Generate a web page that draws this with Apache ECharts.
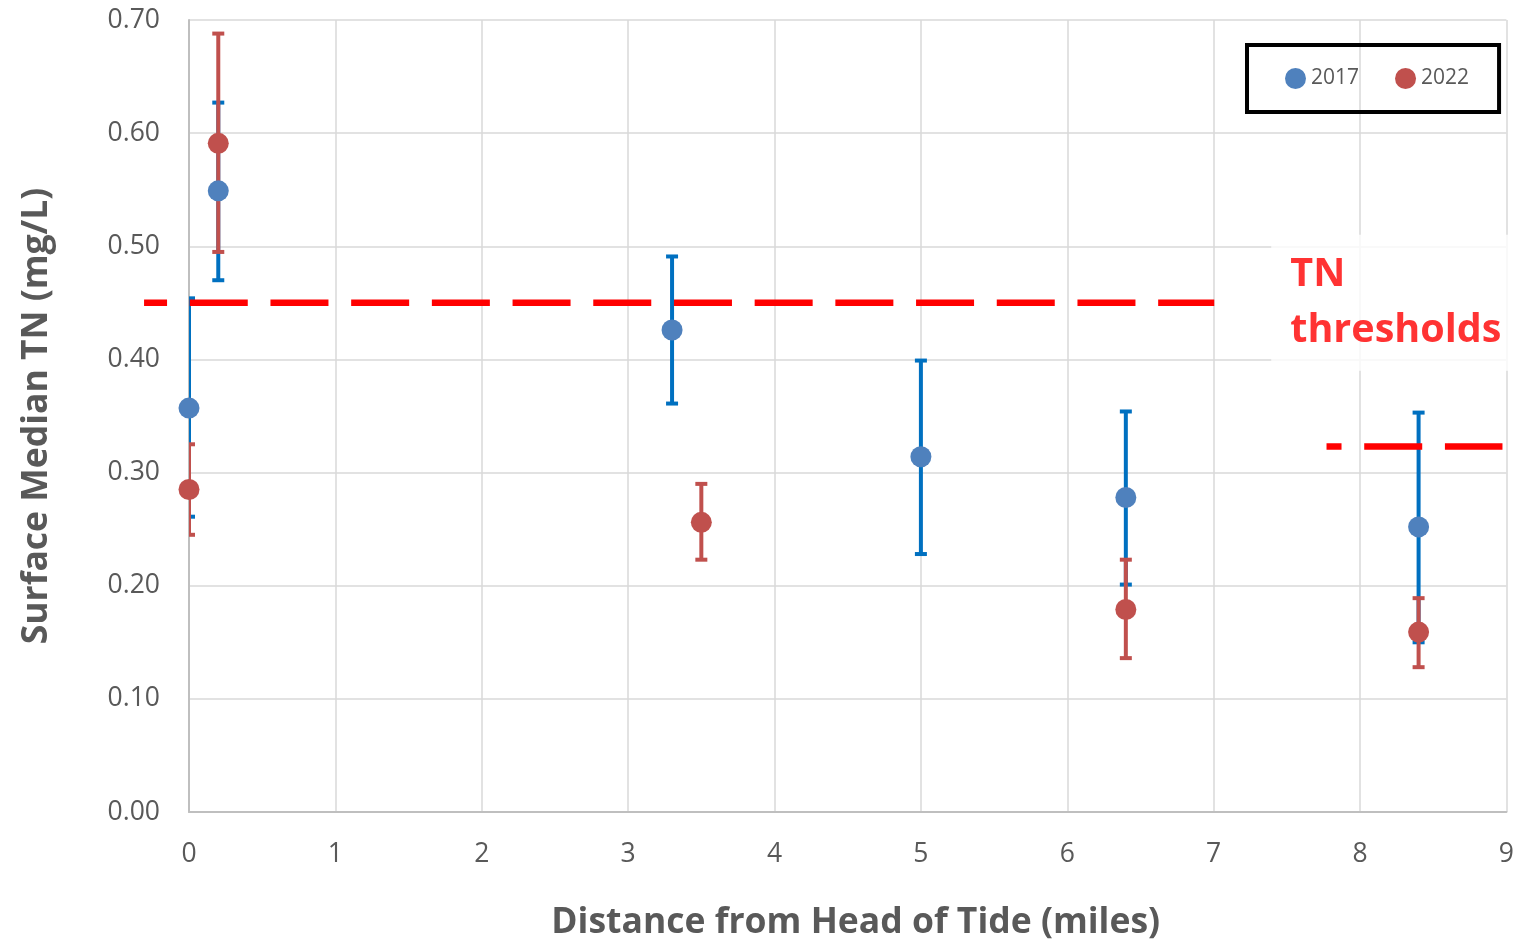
<!DOCTYPE html>
<html>
<head>
<meta charset="utf-8">
<title>Surface Median TN</title>
<script src="https://cdn.jsdelivr.net/npm/echarts@6/dist/echarts.min.js"></script>
<style>
  html, body { margin: 0; padding: 0; background: #fff; }
  #chart { width: 1517px; height: 948px; }
</style>
</head>
<body>
<div id="chart"></div>
<script>
// 2017 survey: distance (miles), median TN, error bar top / bottom
const dist2017 = [0, 0.2, 3.3, 5.0, 6.4, 8.4]
const tn2017 = [0.357, 0.549, 0.426, 0.314, 0.278, 0.252]
const hi2017 = [0.454, 0.627, 0.491, 0.399, 0.354, 0.353]
const lo2017 = [0.261, 0.470, 0.361, 0.228, 0.201, 0.150]

// 2022 survey
const dist2022 = [0, 0.2, 3.5, 6.4, 8.4]
const tn2022 = [0.285, 0.591, 0.256, 0.179, 0.159]
const hi2022 = [0.325, 0.688, 0.290, 0.223, 0.189]
const lo2022 = [0.245, 0.495, 0.223, 0.136, 0.128]

// TN threshold segments: [xStart, xEnd, y]
const threshStart = [-0.307, 7.771]
const threshEnd = [7.004, 8.973]
const threshValue = [0.45, 0.323]
const threshLabelAt = [7.39, 0.45]

const yTicks = ['0.00', '0.10', '0.20', '0.30', '0.40', '0.50', '0.60', '0.70']

const textGray = '#595959'
const blueMarker = '#4F81BD'
const blueBar = '#0070C0'
const redMarker = '#C0504D'
const redBar = '#C0504D'
const font = 'Open Sans'

const points = (xs, ys) => xs.map((x, i) => [x, ys[i]])
const bars = (xs, lo, hi) => xs.map((x, i) => [x, lo[i], hi[i]])

// 误差线
const errorSeries = (name, data, color, z) => ({
  name: name,
  type: 'custom',
  clip: true,
  z: z,
  encode: { x: 0, y: [1, 2] },
  data: data,
  renderItem: (params, api) => {
    const x = api.value(0)
    const pLo = api.coord([x, api.value(1)])
    const pHi = api.coord([x, api.value(2)])
    const hw = 6
    const style = { stroke: color, lineWidth: 4 }
    return {
      type: 'group',
      children: [
        { type: 'line', shape: { x1: pLo[0], y1: pLo[1], x2: pHi[0], y2: pHi[1] }, style: style },
        { type: 'line', shape: { x1: pHi[0] - hw, y1: pHi[1], x2: pHi[0] + hw, y2: pHi[1] }, style: style },
        { type: 'line', shape: { x1: pLo[0] - hw, y1: pLo[1], x2: pLo[0] + hw, y2: pLo[1] }, style: style }
      ]
    }
  }
})

// 阈值虚线
const dashOffsets = [35, 43]
const threshSeries = {
  type: 'custom',
  clip: false,
  silent: true,
  z: 3,
  encode: { x: [0, 1], y: 2 },
  data: threshStart.map((x, i) => [x, threshEnd[i], threshValue[i]]),
  renderItem: (params, api) => {
    const y = api.value(2)
    const p1 = api.coord([api.value(0), y])
    const p2 = api.coord([api.value(1), y])
    return {
      type: 'line',
      shape: { x1: p1[0], y1: p1[1], x2: p2[0], y2: p2[1] },
      style: {
        stroke: '#FF0000',
        lineWidth: 6.5,
        lineDash: [58, 22.7],
        lineDashOffset: dashOffsets[params.dataIndex]
      }
    }
  }
}

const chart = echarts.init(document.getElementById('chart'))

chart.setOption({
  animation: false,
  textStyle: { fontFamily: font },
  grid: { left: 189, right: 9, top: 20, bottom: 136, containLabel: false },
  legend: {
    data: ['2017', '2022'],
    left: 1247,
    top: 45,
    padding: [23, 30, 23, 38],
    itemGap: 36,
    itemWidth: 21,
    itemHeight: 21,
    icon: 'circle',
    borderColor: '#000',
    borderWidth: 4,
    textStyle: { color: textGray, fontSize: 21, fontFamily: font }
  },
  xAxis: {
    type: 'value',
    min: 0,
    max: 9,
    interval: 1,
    name: 'Distance from Head of Tide (miles)',
    nameLocation: 'middle',
    nameGap: 93,
    nameTextStyle: {
      color: textGray,
      fontSize: 35.5,
      fontWeight: 'bold',
      fontFamily: font,
      padding: [0, 0, 0, 16]
    },
    axisLine: { show: true, lineStyle: { color: '#BFBFBF', width: 2 } },
    axisTick: { show: false },
    axisLabel: { color: textGray, fontSize: 26.5, margin: 29 },
    splitLine: { show: true, lineStyle: { color: '#D9D9D9', width: 1.5 } }
  },
  yAxis: {
    type: 'value',
    min: 0,
    max: 0.7,
    interval: 0.1,
    name: 'Surface Median TN (mg/L)',
    nameLocation: 'middle',
    nameGap: 134,
    nameTextStyle: { color: textGray, fontSize: 35.5, fontWeight: 'bold', fontFamily: font },
    axisLine: { show: true, lineStyle: { color: '#BFBFBF', width: 2 } },
    axisTick: { show: false },
    axisLabel: {
      color: textGray,
      fontSize: 26.5,
      margin: 29,
      formatter: v => yTicks[Math.round(v * 10)]
    },
    splitLine: { show: true, lineStyle: { color: '#D9D9D9', width: 1.5 } }
  },
  series: [
    errorSeries('2017 error', bars(dist2017, lo2017, hi2017), blueBar, 2),
    errorSeries('2022 error', bars(dist2022, lo2022, hi2022), redBar, 2.5),
    threshSeries,
    {
      name: '2017',
      type: 'scatter',
      z: 5,
      clip: false,
      symbol: 'circle',
      symbolSize: 21,
      itemStyle: { color: blueMarker, opacity: 1 },
      data: points(dist2017, tn2017)
    },
    {
      name: '2022',
      type: 'scatter',
      z: 6,
      clip: false,
      symbol: 'circle',
      symbolSize: 21,
      itemStyle: { color: redMarker, opacity: 1 },
      data: points(dist2022, tn2022)
    },
    {
      // TN thresholds 文本框
      type: 'scatter',
      z: 4,
      clip: false,
      silent: true,
      symbolSize: 1,
      itemStyle: { color: 'rgba(0,0,0,0)' },
      data: [threshLabelAt],
      label: {
        show: true,
        position: 'right',
        distance: 0,
        formatter: 'TN\nthresholds',
        color: '#FF0000',
        fontSize: 39.5,
        fontWeight: 'bold',
        fontFamily: font,
        lineHeight: 56,
        align: 'left',
        backgroundColor: '#fff',
        padding: [14, 14, 10, 19]
      }
    }
  ]
})
</script>
</body>
</html>
